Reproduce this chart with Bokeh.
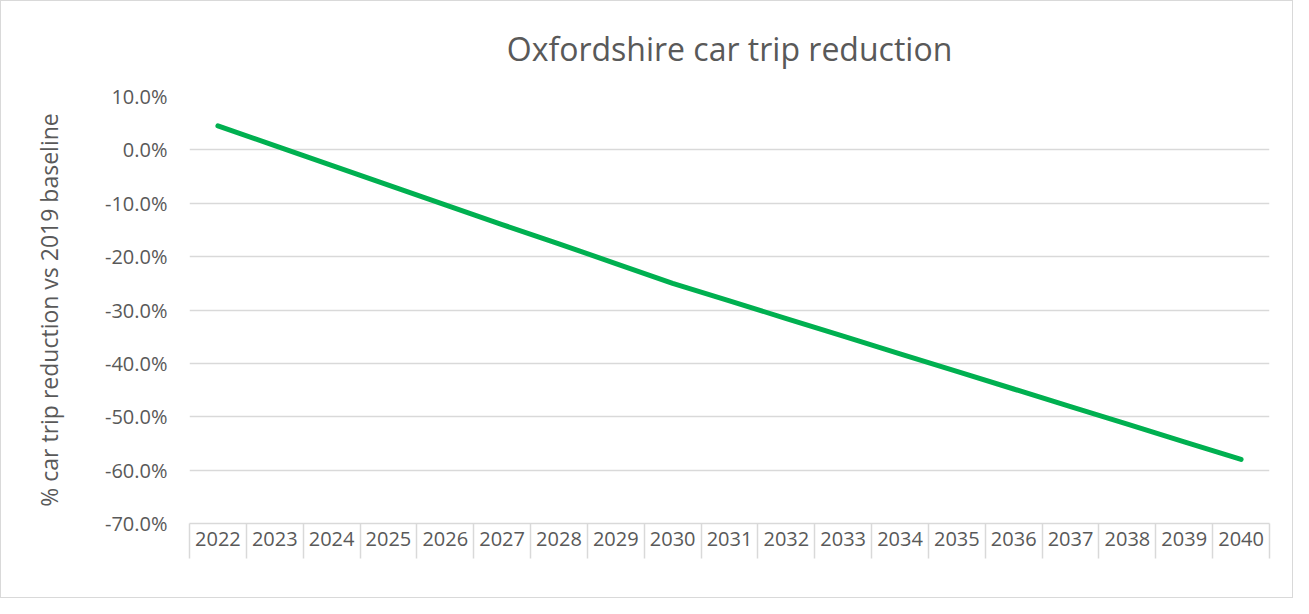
from bokeh.plotting import figure
from bokeh.models import FixedTicker, CustomJSTickFormatter, PrintfTickFormatter, Range1d
from bokeh.embed import file_html
from bokeh.resources import INLINE

# ---- data ----
years = ["2022", "2023", "2024", "2025", "2026", "2027", "2028", "2029", "2030", "2031",
         "2032", "2033", "2034", "2035", "2036", "2037", "2038", "2039", "2040"]
reduction = [4.5, 0.8, -2.9, -6.6, -10.3, -14.0, -17.6, -21.3, -25.0, -28.3,
             -31.6, -34.9, -38.2, -41.5, -44.8, -48.1, -51.4, -54.7, -58.0]
y_ticks = [-70, -60, -50, -40, -30, -20, -10, 0, 10]
title_text = "Oxfordshire car trip reduction"
y_label = "% car trip reduction vs 2019 baseline"

TEXT = "#595959"
GRID = "#D9D9D9"
FONT = "Open Sans"

n = len(years)
xs = [i + 0.5 for i in range(n)]

p = figure(width=1293, height=598, output_backend="svg", toolbar_location=None,
           x_range=Range1d(0, n), y_range=Range1d(y_ticks[0], y_ticks[-1]),
           min_border_left=188, min_border_right=25, min_border_top=95, min_border_bottom=76,
           background_fill_color="white", border_fill_color="white")
p.outline_line_color = None
p.styles = {"border": "1px solid #D9D9D9"}

p.title.text = title_text
p.title.align = "center"
p.title.vertical_align = "top"
p.title.text_font = FONT
p.title.text_font_size = "32px"
p.title.text_font_style = "normal"
p.title.text_color = TEXT
p.title.standoff = 49

# y axis
p.yaxis.ticker = FixedTicker(ticks=y_ticks)
p.yaxis.formatter = PrintfTickFormatter(format="%.1f%%")
p.yaxis.axis_line_color = None
p.yaxis.major_tick_line_color = None
p.yaxis.minor_tick_line_color = None
p.yaxis.major_label_standoff = 16
p.yaxis.major_label_text_font = FONT
p.yaxis.major_label_text_font_size = "20px"
p.yaxis.major_label_text_color = TEXT
p.yaxis.axis_label = y_label
p.yaxis.axis_label_text_font = FONT
p.yaxis.axis_label_text_font_size = "23px"
p.yaxis.axis_label_text_font_style = "normal"
p.yaxis.axis_label_text_color = TEXT
p.yaxis.axis_label_standoff = 37

# x axis: labels at centres, separators at boundaries (minor ticks)
p.xaxis.ticker = FixedTicker(ticks=xs, minor_ticks=list(range(n + 1)))
p.xaxis.formatter = CustomJSTickFormatter(args=dict(cats=years), code="""
    const i = Math.floor(tick);
    return (i >= 0 && i < cats.length) ? cats[i] : '';
""")
p.xaxis.axis_line_color = GRID
p.xaxis.axis_line_width = 1.5
p.xaxis.major_tick_line_color = None
p.xaxis.minor_tick_line_color = GRID
p.xaxis.minor_tick_line_width = 1.5
p.xaxis.minor_tick_in = 0
p.xaxis.minor_tick_out = 35
p.xaxis.major_label_standoff = -27
p.xaxis.major_label_text_font = FONT
p.xaxis.major_label_text_font_size = "20px"
p.xaxis.major_label_text_color = TEXT

p.xgrid.grid_line_color = None
p.ygrid.ticker = FixedTicker(ticks=y_ticks)
p.ygrid.grid_line_color = GRID
p.ygrid.grid_line_width = 1.5

p.line(xs, reduction, line_color="#00B050", line_width=5, line_cap="round", line_join="round")

open("out.html", "w").write(file_html(p, INLINE))
